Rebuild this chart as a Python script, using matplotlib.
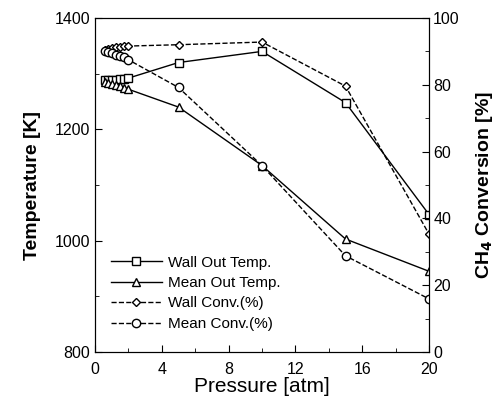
import matplotlib
matplotlib.use("Agg")
import matplotlib.pyplot as plt
from matplotlib.ticker import MultipleLocator

plt.rcParams['font.family'] = ['Liberation Sans', 'DejaVu Sans']

pressure = [0.6, 0.8, 1.0, 1.25, 1.5, 1.75, 2.0, 5, 10, 15, 20]
wall_out_temp = [1288, 1288, 1288, 1289, 1290, 1291, 1292, 1320, 1340, 1248, 1047]
mean_out_temp = [1285, 1284, 1282, 1280, 1278, 1275, 1272, 1240, 1135, 1003, 945]
wall_conv = [90.5, 90.8, 91.0, 91.2, 91.4, 91.5, 91.6, 92.0, 92.8, 79.6, 35.3]
mean_conv = [90.0, 89.8, 89.5, 89.0, 88.6, 88.2, 87.5, 79.2, 55.8, 28.8, 15.9]

fig = plt.figure(figsize=(5.01, 4.07), dpi=100)
ax = fig.add_axes([95/501, 1-352/407, (429-95)/501, (352-18)/407])
ax2 = ax.twinx()

ms = 6
l1, = ax.plot(pressure, wall_out_temp, '-', color='black', lw=1.0, marker='s',
              mfc='white', mec='black', ms=ms, label='Wall Out Temp.')
l2, = ax.plot(pressure, mean_out_temp, '-', color='black', lw=1.0, marker='^',
              mfc='white', mec='black', ms=ms, label='Mean Out Temp.')
l3, = ax2.plot(pressure, wall_conv, '--', color='black', lw=1.0, marker='D',
               mfc='white', mec='black', ms=4.5, label='Wall Conv.(%)')
l4, = ax2.plot(pressure, mean_conv, '--', color='black', lw=1.0, marker='o',
               mfc='white', mec='black', ms=ms, label='Mean Conv.(%)')

ax.set_xlim(0, 20)
ax.set_ylim(800, 1400)
ax2.set_ylim(0, 100)

ax.xaxis.set_major_locator(MultipleLocator(4))
ax.xaxis.set_minor_locator(MultipleLocator(2))
ax.yaxis.set_major_locator(MultipleLocator(200))
ax.yaxis.set_minor_locator(MultipleLocator(100))
ax2.yaxis.set_major_locator(MultipleLocator(20))
ax2.yaxis.set_minor_locator(MultipleLocator(10))

for a in (ax, ax2):
    a.tick_params(which='both', direction='in', labelsize=11.5)
    a.tick_params(which='major', length=5)
    a.tick_params(which='minor', length=3)
ax.tick_params(axis='x', which='both', top=False, pad=7)
ax2.tick_params(axis='y', pad=3)

ax.set_xlabel('Pressure [atm]', fontsize=15, labelpad=0)
ax.set_ylabel('Temperature [K]', fontsize=14, fontweight='bold', labelpad=10)
ax2.set_ylabel('CH$_\\mathbf{4}$ Conversion [%]', fontsize=14, fontweight='bold', labelpad=10)

leg = ax.legend(handles=[l1, l2, l3, l4], loc='lower left', bbox_to_anchor=(0.03, 0.045),
                frameon=False, fontsize=11, handlelength=3.3, handletextpad=0.4,
                labelspacing=0.42, borderaxespad=0)

fig.savefig('out.png', dpi=100)
